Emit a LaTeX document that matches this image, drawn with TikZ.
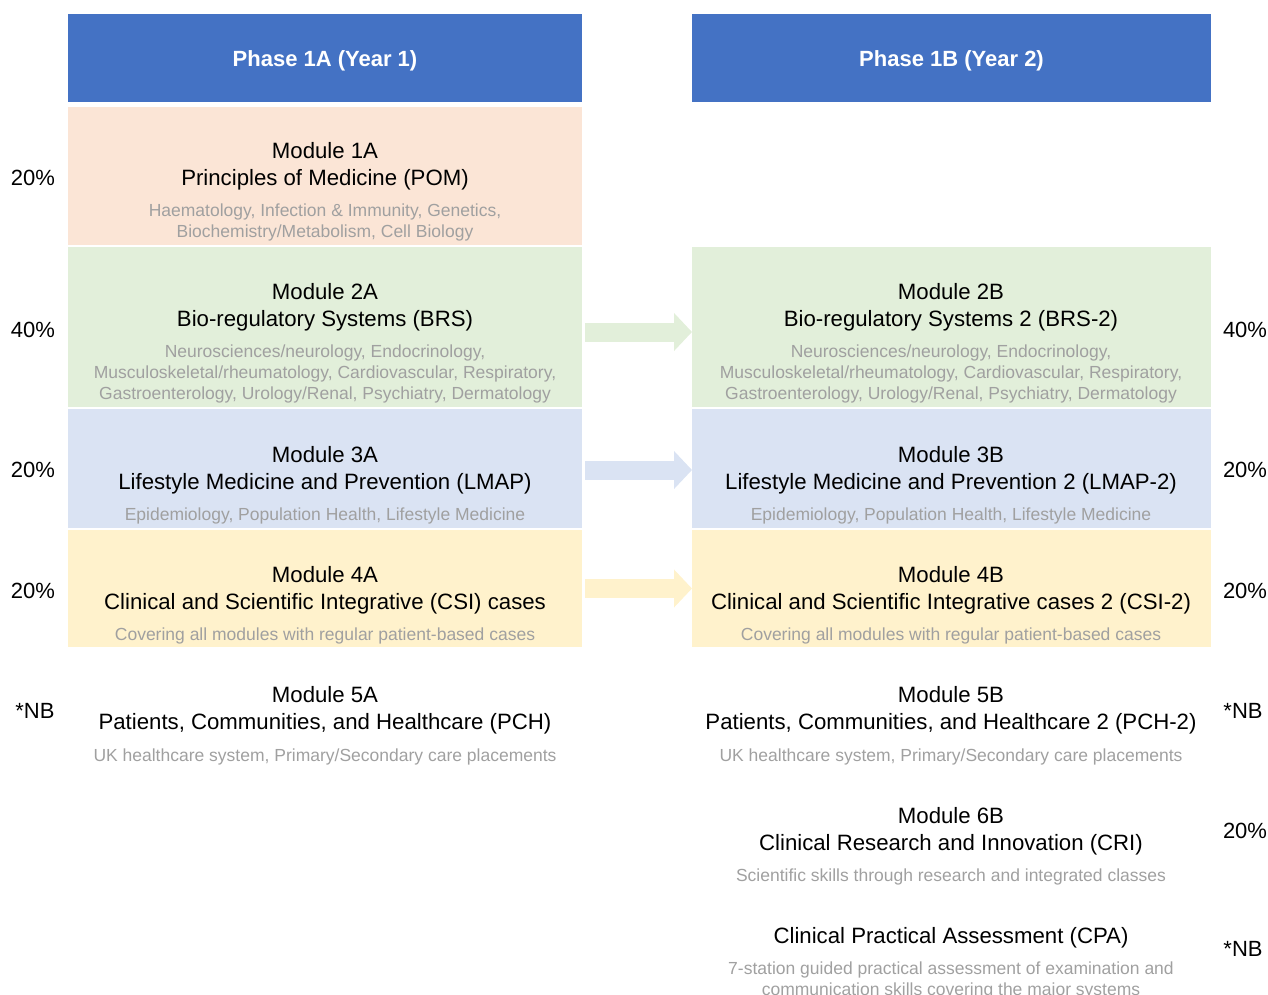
\documentclass[tikz,border=0pt]{standalone}
\usepackage{fontspec}
\setmainfont{Liberation Sans}
\usetikzlibrary{arrows.meta}
\definecolor{hdr}{HTML}{4472C4}
\definecolor{cpeach}{HTML}{FBE5D6}
\definecolor{cgreen}{HTML}{E2EFDA}
\definecolor{cblue}{HTML}{DAE3F3}
\definecolor{cyellow}{HTML}{FFF2CC}
\definecolor{greytxt}{HTML}{A0A0A0}
\begin{document}
\begin{tikzpicture}[x=1pt,y=-1pt,
  box/.style={draw=none, inner sep=0pt, outer sep=0pt, anchor=north west},
  lbox/.style={box, minimum width=514pt},
  rbox/.style={box, minimum width=519pt},
  hdrtext/.style={text=white, font=\fontsize{22}{26}\selectfont\bfseries},
  ttl/.style={align=center, inner sep=0pt, font=\fontsize{22.2}{27}\selectfont},
  sub/.style={align=center, inner sep=0pt, text=greytxt, font=\fontsize{17.5}{21}\selectfont},
  pct/.style={inner sep=0pt, font=\fontsize{22}{26}\selectfont},
  flow/.style={line width=19pt, -{Triangle[length=18pt,width=37pt]}}
]
\useasboundingbox (0,0) rectangle (1268,995);
% headers
\node[lbox, fill=hdr, minimum height=88pt] (h1) at (68,14) {};
\node[rbox, fill=hdr, minimum height=88pt] (h2) at (692,14) {};
\node[hdrtext] (h1t) at ([yshift=-3pt]h1.center) {Phase 1A (Year 1)};
\node[hdrtext] (h2t) at ([yshift=-3pt]h2.center) {Phase 1B (Year 2)};
% boxes
\node[lbox, fill=cpeach, minimum height=138pt] (m1a) at (68,107) {};
\node[lbox, fill=cgreen, minimum height=160pt] (m2a) at (68,247) {};
\node[rbox, fill=cgreen, minimum height=160pt] (m2b) at (692,247) {};
\node[lbox, fill=cblue, minimum height=119pt] (m3a) at (68,409) {};
\node[rbox, fill=cblue, minimum height=119pt] (m3b) at (692,409) {};
\node[lbox, fill=cyellow, minimum height=117pt] (m4a) at (68,530) {};
\node[rbox, fill=cyellow, minimum height=117pt] (m4b) at (692,530) {};
% arrows
\draw[flow, cgreen] ([xshift=3pt,yshift=-5pt]m2a.east) -- ([yshift=-5pt]m2b.west);
\draw[flow, cblue] ([xshift=3pt,yshift=-1.5pt]m3a.east) -- ([yshift=-1.5pt]m3b.west);
\draw[flow, cyellow] ([xshift=3pt]m4a.east) -- (m4b.west);
% module 1A
\node[ttl] (t1a) at (325,166.5) {Module 1A\\Principles of Medicine (POM)};
\node[sub] (s1a) at (325,222) {Haematology, Infection \& Immunity, Genetics,\\Biochemistry/Metabolism, Cell Biology};
% module 2
\node[ttl] (t2a) at (325,307.5) {Module 2A\\Bio-regulatory Systems (BRS)};
\node[sub] (s2a) at (325,374) {Neurosciences/neurology, Endocrinology,\\Musculoskeletal/rheumatology, Cardiovascular, Respiratory,\\Gastroenterology, Urology/Renal, Psychiatry, Dermatology};
\node[ttl] (t2b) at (951,307.5) {Module 2B\\Bio-regulatory Systems 2 (BRS-2)};
\node[sub] (s2b) at (951,374) {Neurosciences/neurology, Endocrinology,\\Musculoskeletal/rheumatology, Cardiovascular, Respiratory,\\Gastroenterology, Urology/Renal, Psychiatry, Dermatology};
% module 3
\node[ttl] (t3a) at (325,470.5) {Module 3A\\Lifestyle Medicine and Prevention (LMAP)};
\node[sub] (s3a) at (325,515.5) {Epidemiology, Population Health, Lifestyle Medicine};
\node[ttl] (t3b) at (951,470.5) {Module 3B\\Lifestyle Medicine and Prevention 2 (LMAP-2)};
\node[sub] (s3b) at (951,515.5) {Epidemiology, Population Health, Lifestyle Medicine};
% module 4
\node[ttl] (t4a) at (325,590.5) {Module 4A\\Clinical and Scientific Integrative (CSI) cases};
\node[sub] (s4a) at (325,635.5) {Covering all modules with regular patient-based cases};
\node[ttl] (t4b) at (951,590.5) {Module 4B\\Clinical and Scientific Integrative cases 2 (CSI-2)};
\node[sub] (s4b) at (951,635.5) {Covering all modules with regular patient-based cases};
% module 5
\node[ttl] (t5a) at (325,710.5) {Module 5A\\Patients, Communities, and Healthcare (PCH)};
\node[sub] (s5a) at (325,756.5) {UK healthcare system, Primary/Secondary care placements};
\node[ttl] (t5b) at (951,710.5) {Module 5B\\Patients, Communities, and Healthcare 2 (PCH-2)};
\node[sub] (s5b) at (951,756.5) {UK healthcare system, Primary/Secondary care placements};
% module 6
\node[ttl] (t6b) at (951,831.5) {Module 6B\\Clinical Research and Innovation (CRI)};
\node[sub] (s6b) at (951,876.5) {Scientific skills through research and integrated classes};
% CPA
\node[ttl] (tcpa) at (951,938) {Clinical Practical Assessment (CPA)};
\node[sub] (scpa) at (951,980) {7-station guided practical assessment of examination and\\communication skills covering the major systems};
% percentages
\node[pct] (p1l) at (33,178) {20\%};
\node[pct] (p2l) at (33,330) {40\%};
\node[pct] (p3l) at (33,470) {20\%};
\node[pct] (p4l) at (33,591) {20\%};
\node[pct] (p5l) at (35,711) {*NB};
\node[pct] (p2r) at (1245,330) {40\%};
\node[pct] (p3r) at (1245,470) {20\%};
\node[pct] (p4r) at (1245,591) {20\%};
\node[pct] (p5r) at (1243,711) {*NB};
\node[pct] (p6r) at (1245,831) {20\%};
\node[pct] (p7r) at (1243,949) {*NB};
\end{tikzpicture}
\end{document}
